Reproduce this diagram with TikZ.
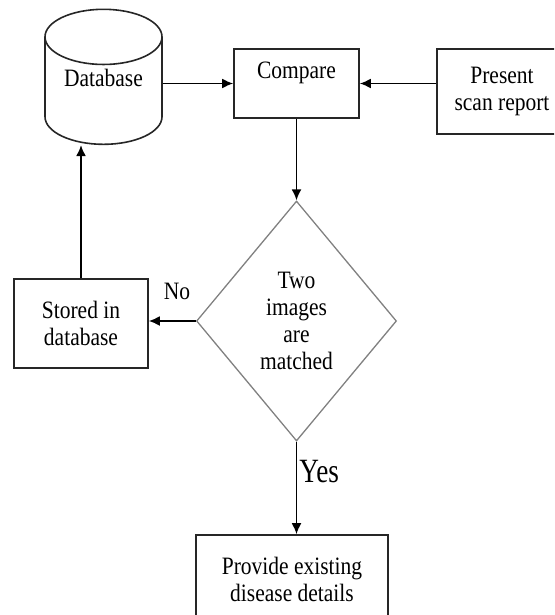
\documentclass[tikz,border=0pt]{standalone}
\usepackage{fontspec}
\setmainfont{Liberation Serif}[FakeStretch=0.86]
\newfontfamily\yesfont{Liberation Serif}[FakeStretch=0.8]
\usetikzlibrary{shapes.geometric,arrows.meta}

\begin{document}
\begin{tikzpicture}[x=1pt,y=-1pt]
    \tikzstyle{every node}=[font=\fontsize{25}{27}\selectfont]
    \tikzstyle{box}=[draw=black!85,line width=1.6pt,align=center,inner sep=0pt]
    \tikzstyle{arrow}=[line width=1.8pt,-{Latex[length=11pt,width=10pt]}]
    \clip (0,0) rectangle (554,615);

    \node[box,shape=cylinder,shape border rotate=90,aspect=0.7,
    minimum width=117pt,minimum height=135pt] (db) at (103.5,91) {Database\\~};
    \node[box,minimum width=125pt,minimum height=69pt] (compare) at (296.5,83.5)
    {Compare\\~};
    \node[box,minimum width=130pt,minimum height=85pt] (report) at (502,91.5)
    {Present\\scan report};
    \node[box,shape=diamond,draw=black!50,line width=1.3pt,aspect=0.83,
    minimum width=200pt,minimum height=240pt] (match) at (296.5,321)
    {Two\\images\\are\\matched};
    \node[box,minimum width=134pt,minimum height=89pt] (stored) at (81,323.5)
    {Stored in\\database};
    \node[box,minimum width=192pt,minimum height=88pt] (details) at (292,579)
    {Provide existing\\disease details};

    \draw[arrow] (db.east |- compare.west) -- (compare.west);
    \draw[arrow] (report.west |- compare.east) -- (compare.east);
    \draw[arrow] (compare) -- (match);
    \draw[arrow] (match.west) -- node[pos=0.4,above=17pt] {No}
    (match.west -| stored.east);
    \draw[arrow] (stored.north) -- (stored.north |- db.south);
    \draw[arrow] (match.south) -- node[pos=0.32,right,inner xsep=2pt,
    font={\yesfont\fontsize{34}{40}\selectfont}] {Yes}
    (match.south |- details.north);

\end{tikzpicture}
\end{document}
